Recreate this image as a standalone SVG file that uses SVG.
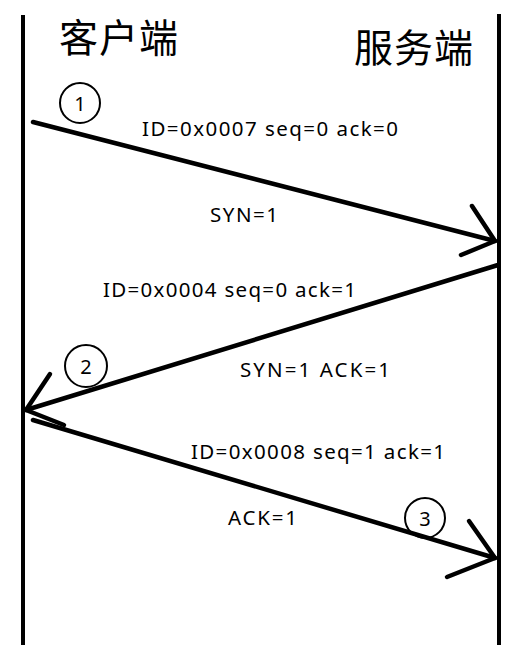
<svg xmlns="http://www.w3.org/2000/svg" width="521" height="645" viewBox="0 0 521 645">
<style>
.life{stroke:#000;stroke-width:4;fill:none}
.msg{stroke:#000;stroke-width:4.5;fill:none;stroke-linecap:round;stroke-linejoin:round}
.circ{stroke:#000;stroke-width:2;fill:none}
.t{font-family:"Noto Sans","Open Sans","Liberation Sans",sans-serif;font-size:20.5px;fill:#000}
.cjk{font-family:"Noto Sans CJK SC","Noto Sans",sans-serif;font-size:39px;fill:#000}
.num{font-family:"Noto Sans","Liberation Sans",sans-serif;font-size:20px;fill:#000;text-anchor:middle}
</style>
<rect width="521" height="645" fill="#fff"/>
<g id="client">
<line class="life" x1="23" y1="15" x2="23" y2="645"/>
<text class="cjk" x="59" y="52" textLength="119">客户端</text>
</g>
<g id="server">
<line class="life" x1="499" y1="14" x2="499" y2="645"/>
<text class="cjk" x="354" y="62" textLength="119">服务端</text>
</g>
<g id="connectors">
<g id="msg1">
<path class="msg" d="M33,122 L495,241"/>
<path class="msg" d="M472,206 L495,241 L461,255"/>
</g>
<g id="msg2">
<path class="msg" d="M498,265 L26,410"/>
<path class="msg" d="M50,374 L26,410 L64,425"/>
</g>
<g id="msg3">
<path class="msg" d="M33,420 L495,558"/>
<path class="msg" d="M469,521 L495,558 L447,577"/>
</g>
</g>
<g id="step1">
<circle class="circ" cx="80" cy="103" r="20"/>
<text class="num" x="80" y="111">1</text>
</g>
<g id="step2">
<circle class="circ" cx="86" cy="366" r="21"/>
<text class="num" x="86" y="374">2</text>
</g>
<g id="step3">
<circle class="circ" cx="425" cy="518" r="20"/>
<text class="num" x="425" y="526">3</text>
</g>
<g id="labels">
<text class="t" x="142" y="136" textLength="256">ID=0x0007 seq=0 ack=0</text>
<text class="t" x="210" y="222" textLength="68">SYN=1</text>
<text class="t" x="103" y="297" textLength="253">ID=0x0004 seq=0 ack=1</text>
<text class="t" x="240" y="377" textLength="150">SYN=1 ACK=1</text>
<text class="t" x="191" y="459" textLength="254">ID=0x0008 seq=1 ack=1</text>
<text class="t" x="228" y="525" textLength="69">ACK=1</text>
</g>
</svg>
